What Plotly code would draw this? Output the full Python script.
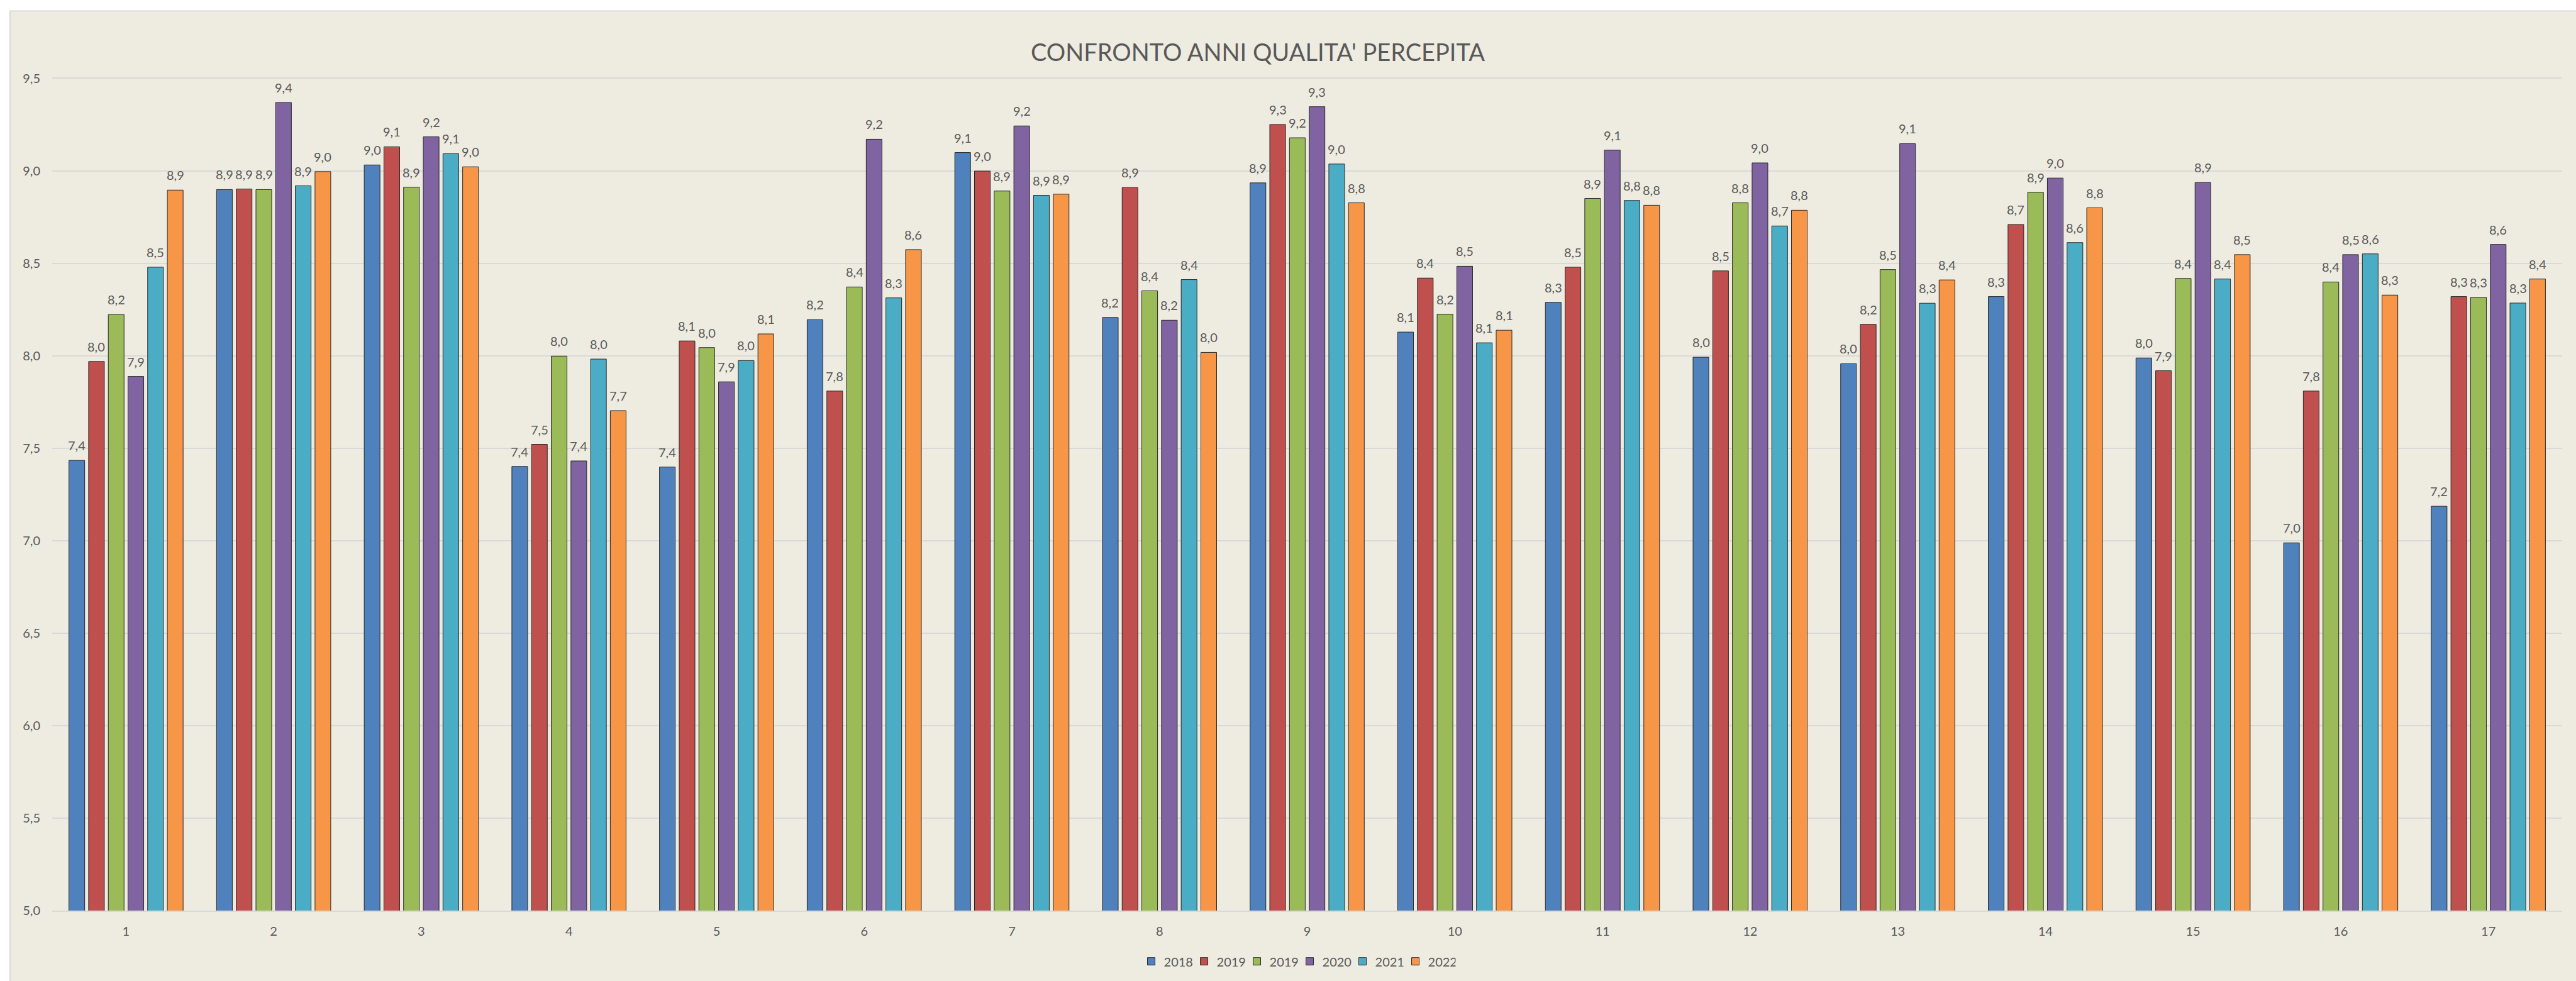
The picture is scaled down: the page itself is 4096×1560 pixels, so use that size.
import plotly.graph_objects as go

# ---- data -------------------------------------------------------------
categories = list(range(1, 18))
series_names = ["2018", "2019", "2019", "2020", "2021", "2022"]
series_colors = ["#4F81BD", "#C0504D", "#9BBB59", "#8064A2", "#4BACC6", "#F79646"]

v2018 = [7.435, 8.900, 9.033, 7.402, 7.399, 8.196, 9.100, 8.208, 8.936,
         8.129, 8.290, 7.993, 7.958, 8.321, 7.989, 6.989, 7.187]
v2019a = [7.970, 8.903, 9.131, 7.522, 8.081, 7.810, 9.000, 8.911, 9.252,
          8.421, 8.480, 8.460, 8.171, 8.711, 7.920, 7.810, 8.321]
v2019b = [8.224, 8.900, 8.913, 7.999, 8.045, 8.373, 8.892, 8.352, 9.180,
          8.226, 8.852, 8.828, 8.467, 8.885, 8.419, 8.400, 8.317]
v2020 = [7.889, 9.371, 9.185, 7.432, 7.860, 9.172, 9.244, 8.193, 9.348,
         8.485, 9.113, 9.044, 9.148, 8.962, 8.938, 8.548, 8.603]
v2021 = [8.480, 8.920, 9.094, 7.983, 7.975, 8.314, 8.869, 8.413, 9.038,
         8.071, 8.841, 8.703, 8.285, 8.613, 8.416, 8.552, 8.286]
v2022 = [8.897, 8.997, 9.023, 7.704, 8.119, 8.575, 8.875, 8.019, 8.828,
         8.139, 8.815, 8.788, 8.411, 8.801, 8.548, 8.329, 8.416]

series_values = [v2018, v2019a, v2019b, v2020, v2021, v2022]
y_ticks = [5.0, 5.5, 6.0, 6.5, 7.0, 7.5, 8.0, 8.5, 9.0, 9.5]

# ---- styling ----------------------------------------------------------
W, H = 4096, 1560
M_L, M_R, M_T, M_B = 83, 22, 125, 107
FONT = "Lato"
TXT = "#595959"
BG = "#EEECE1"
GRID = "#D9D9D9"
BARGAP = 0.2
BARGROUPGAP = 0.2


def fmt(v):
    return f"{v:.1f}".replace(".", ",")


fig = go.Figure()
for name, color, vals in zip(series_names, series_colors, series_values):
    fig.add_trace(go.Bar(
        x=categories, y=vals, name=name,
        marker=dict(color=color, line=dict(color="#262626", width=1)),
        hoverinfo="skip",
    ))

# value labels above each bar, centred on the bar within its group
n = len(series_values)
slot = (1 - BARGAP) / n
annotations = []
for i, vals in enumerate(series_values):
    off = -(1 - BARGAP) / 2 + slot * (i + 0.5)
    for c, v in zip(categories, vals):
        annotations.append(dict(
            x=c + off, y=v, xref="x", yref="y", text=fmt(v),
            showarrow=False, xanchor="center", yanchor="middle", yshift=24,
            font=dict(family=FONT, size=20, color=TXT),
        ))

plot_w = W - M_L - M_R
plot_h = H - M_T - M_B

# chart area: beige panel with a light border on its top and left edges
shapes = [dict(
    type="rect", xref="paper", yref="paper", layer="below",
    x0=(16 - M_L) / plot_w, x1=1.03,
    y0=-0.12, y1=(H - M_B - 17) / plot_h,
    fillcolor=BG, line=dict(color=GRID, width=2),
)]

fig.update_layout(
    template="none",
    width=W, height=H,
    margin=dict(l=M_L, r=M_R, t=M_T, b=M_B, pad=0),
    paper_bgcolor="white",
    plot_bgcolor=BG,
    separators=",.",
    font=dict(family=FONT, size=20, color=TXT),
    barmode="group", bargap=BARGAP, bargroupgap=BARGROUPGAP,
    title=dict(
        text="CONFRONTO ANNI QUALITA' PERCEPITA",
        x=2000 / W, xref="container", xanchor="center",
        y=1 - 84 / H, yref="container", yanchor="middle",
        font=dict(family=FONT, size=38, color=TXT),
    ),
    xaxis=dict(
        range=[0.5, 17.5], tickvals=categories, ticktext=[str(c) for c in categories],
        showgrid=False, zeroline=False, ticks="",
        showline=True, mirror=True, linecolor=GRID, linewidth=2,
        tickfont=dict(family=FONT, size=20, color=TXT),
        ticklabelstandoff=14,
    ),
    yaxis=dict(
        range=[5, 9.5], tickvals=y_ticks, tickformat=".1f",
        showgrid=True, gridcolor=GRID, gridwidth=2,
        zeroline=False, showline=False, ticks="",
        tickfont=dict(family=FONT, size=20, color=TXT),
        ticklabelstandoff=18,
    ),
    legend=dict(
        orientation="h", x=0.496, xanchor="center", y=-0.061, yanchor="middle",
        font=dict(family=FONT, size=20, color=TXT),
        bgcolor="rgba(0,0,0,0)", entrywidth=39, entrywidthmode="pixels",
        traceorder="normal",
    ),
    annotations=annotations,
    shapes=shapes,
    showlegend=True,
)

fig.write_html("out.html")
